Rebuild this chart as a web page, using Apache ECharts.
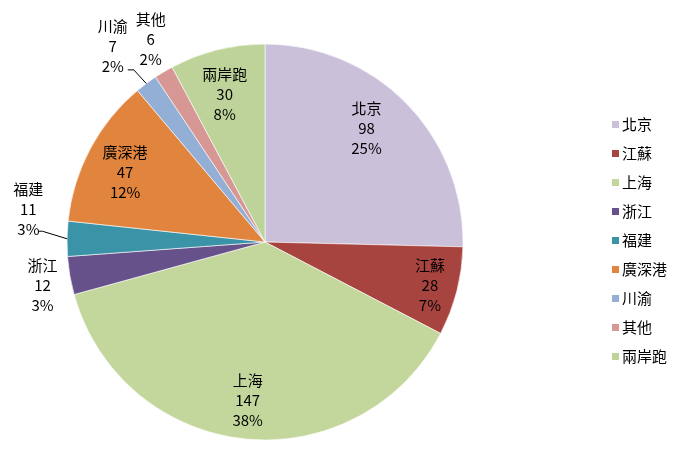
<!DOCTYPE html>
<html>
<head>
<meta charset="utf-8">
<script src="https://cdn.jsdelivr.net/npm/echarts@6/dist/echarts.min.js"></script>
<style>
  html, body { margin: 0; padding: 0; background: #fff; }
  #pie-chart { width: 676px; height: 460px; }
</style>
</head>
<body>
<div id="pie-chart"></div>
<script>
const regions = ["北京", "江蘇", "上海", "浙江", "福建", "廣深港", "川渝", "其他", "兩岸跑"];
const counts = [98, 28, 147, 12, 11, 47, 7, 6, 30];
const colors = ["#cbc0da", "#a8443f", "#c3d69b", "#66518a", "#3a93a6", "#e0843e", "#94afd6", "#d79794", "#bed39a"];

// where Excel put each label: fraction of radius along the slice middle, plus a nudge
// line: leader line start relative to the label centre, with a short flat elbow
const labelPlace = {
  "北京":   { r: 0.78, dx: -9, dy: -6 },
  "江蘇":   { r: 0.86, dx: 0, dy: 1 },
  "上海":   { r: 0.78, dx: -1, dy: 5 },
  "浙江":   { r: 1.14, dx: 0, dy: 5 },
  "福建":   { r: 1.17, dx: -5, dy: -29, line: { ax: 10, ay: 22, elbow: 4 } },
  "廣深港": { r: 0.8, dx: 0, dy: 5 },
  "川渝":   { r: 1.08, dx: -24, dy: -25, line: { ax: 15, ay: 24, elbow: 6 } },
  "其他":   { r: 1.04, dx: -9, dy: -26 },
  "兩岸跑": { r: 0.78, dx: -3, dy: 2 }
};

const FONT = "'Noto Sans CJK TC', 'Noto Sans CJK SC', sans-serif";
const chart = echarts.init(document.getElementById("pie-chart"));

const CX = 265;
const CY = 242;
const R = 198;
const total = counts.reduce((a, b) => a + b, 0);

function midAngle(idx) {
  let before = 0;
  for (let i = 0; i < idx; i++) before += counts[i];
  const frac = (before + counts[idx] / 2) / total;
  return (90 - frac * 360) * Math.PI / 180;
}

function labelCenter(idx) {
  const place = labelPlace[regions[idx]];
  const a = midAngle(idx);
  return [
    CX + Math.cos(a) * R * place.r + place.dx,
    CY - Math.sin(a) * R * place.r + place.dy
  ];
}

const pieData = regions.map((name, i) => ({
  name,
  value: counts[i],
  itemStyle: { color: colors[i] }
}));

// leader lines for the two labels Excel pulled away from their slices
const leaderLines = [];
regions.forEach((name, i) => {
  const line = labelPlace[name].line;
  if (!line) return;
  const [lx, ly] = labelCenter(i);
  const a = midAngle(i);
  leaderLines.push({
    type: "polyline",
    silent: true,
    shape: {
      points: [
        [lx + line.ax, ly + line.ay],
        [lx + line.ax + line.elbow, ly + line.ay],
        [CX + Math.cos(a) * R, CY - Math.sin(a) * R]
      ]
    },
    style: { stroke: "#000", lineWidth: 1, fill: null },
    z: 10
  });
});

chart.setOption({
  animation: false,
  legend: {
    orient: "vertical",
    left: 610,
    top: 117,
    padding: 0,
    itemWidth: 9,
    itemHeight: 9,
    itemGap: 14,
    icon: "rect",
    data: regions,
    textStyle: { fontFamily: FONT, fontSize: 15, color: "#000", padding: [0, 0, 0, -3] }
  },
  graphic: leaderLines,
  series: [
    {
      type: "pie",
      center: [CX, CY],
      radius: [0, R],
      startAngle: 90,
      clockwise: true,
      percentPrecision: 0,
      data: pieData,
      itemStyle: { borderColor: "#fff", borderWidth: 0.6 },
      label: {
        show: true,
        position: "inside",
        overflow: "none",
        formatter: "{b}\n{c}\n{d}%",
        fontFamily: FONT,
        fontSize: 15,
        lineHeight: 20,
        color: "#000",
        align: "center"
      },
      labelLine: { show: false },
      labelLayout: params => {
        const [x, y] = labelCenter(params.dataIndex);
        return { x, y, align: "center", verticalAlign: "middle" };
      },
      emphasis: { disabled: true }
    }
  ]
});
</script>
</body>
</html>
